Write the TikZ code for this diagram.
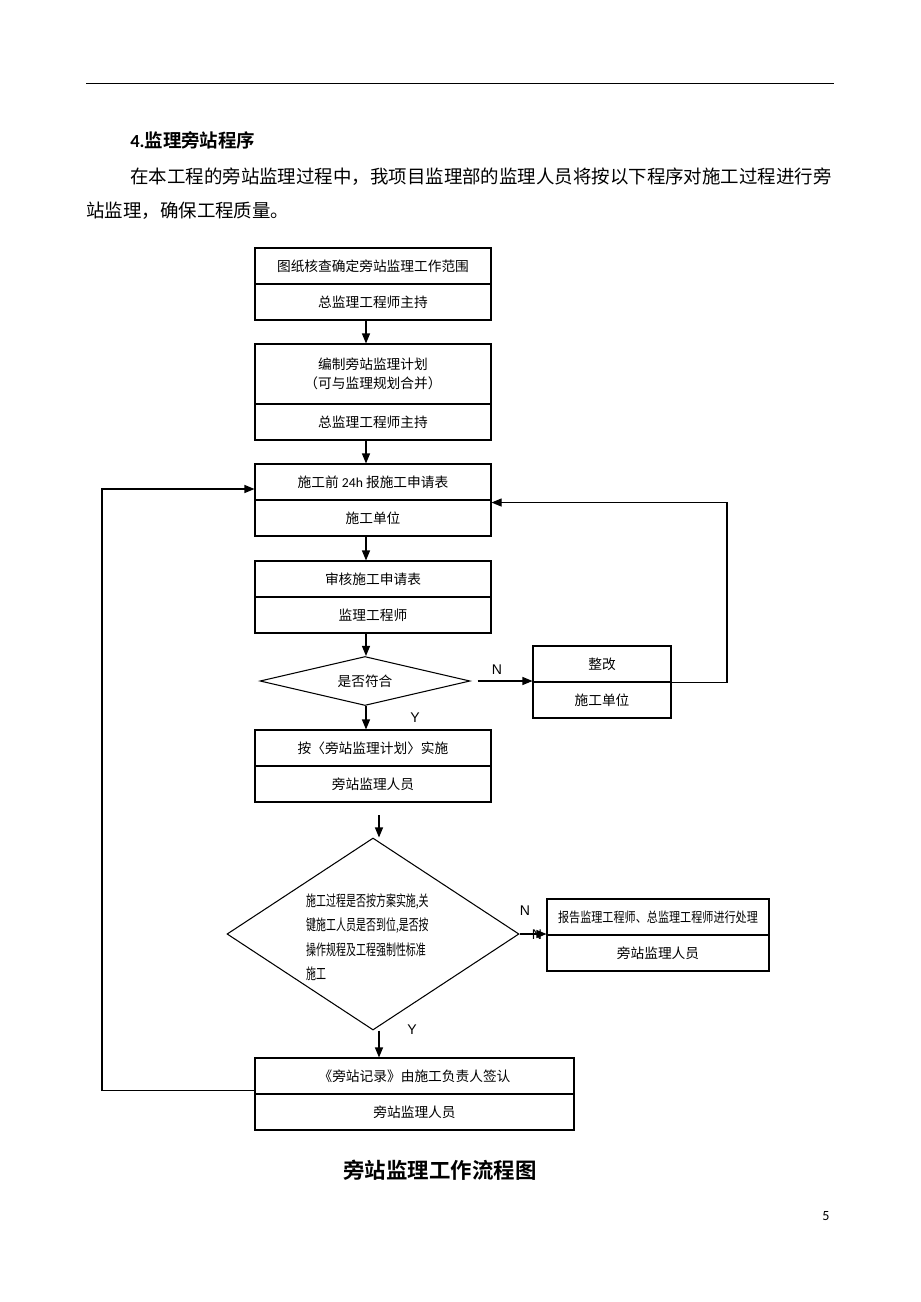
\documentclass[tikz,border=0pt]{standalone}
\usepackage{fontspec}
\setmainfont{Noto Sans CJK SC}[BoldFont={Noto Sans CJK SC Bold}]
\newfontfamily\lat{Carlito}
\newfontfamily\yn{Liberation Sans}
\usetikzlibrary{positioning,shapes.geometric,arrows.meta}

\begin{document}
\begin{tikzpicture}[x=0.2mm, y=-0.2mm,
    cell/.style={draw, line width=0.6pt, minimum height=7.2mm, inner sep=0pt, align=center, font=\fontsize{7.8}{11}\selectfont},
    main/.style={cell, minimum width=47.2mm},
    arr/.style={line width=0.6pt, -{Triangle[length=2mm,width=1.6mm]}},
    lbl/.style={font=\yn\fontsize{8}{9}\selectfont, inner sep=0pt},
    para/.style={anchor=west, inner sep=0pt, font=\fontsize{10.5}{12}\selectfont}]
    \useasboundingbox (0,0) rectangle (920,1302);
    \fill[white] (0,0) rectangle (920,1302);
    \draw[line width=0.5pt] (86,83) -- (834,83);
    \node[para, font=\bfseries\fontsize{10.5}{12}\selectfont] (head) at (130,140) {{\lat\bfseries 4.}监理旁站程序};
    \node[para] (par1) at (130,177) {在本工程的旁站监理过程中，我项目监理部的监理人员将按以下程序对施工过程进行旁};
    \node[para] (par2) at (86,211) {站监理，确保工程质量。};
    \node[main] (b1t) at (373,266) {图纸核查确定旁站监理工作范围};
    \node[main, below=-0.6pt of b1t] (b1b) {总监理工程师主持};
    \node[main, minimum height=12mm] (b2t) at (373,374) {编制旁站监理计划\\（可与监理规划合并）};
    \node[main, below=-0.6pt of b2t] (b2b) {总监理工程师主持};
    \node[main] (b3t) at (373,482) {施工前 {\lat 24h} 报施工申请表};
    \node[main, below=-0.6pt of b3t] (b3b) {施工单位};
    \node[main] (b4t) at (373,579) {审核施工申请表};
    \node[main, below=-0.6pt of b4t] (b4b) {监理工程师};
    \node[draw, diamond, line width=0.6pt, aspect=4.3, minimum width=42mm, minimum height=9.8mm, inner sep=0pt, font=\fontsize{7.8}{11}\selectfont] (d1) at (365,681) {是否符合};
    \node[cell, minimum width=27.6mm] (zt) at (602,664) {整改};
    \node[cell, minimum width=27.6mm, below=-0.6pt of zt] (zb) {施工单位};
    \node[main] (b5t) at (373,748) {按〈旁站监理计划〉实施};
    \node[main, below=-0.6pt of b5t] (b5b) {旁站监理人员};
    \node[draw, diamond, line width=0.6pt, aspect=1.52, minimum width=58.4mm, minimum height=38.4mm, inner sep=0pt] (d2) at (373,934) {};
    \node[anchor=west, align=left, inner sep=0pt, xscale=0.66, transform shape, font=\fontsize{8.6}{13.9}\selectfont] (d2txt) at (306,937) {施工过程是否按方案实施,关\\键施工人员是否到位,是否按\\操作规程及工程强制性标准\\施工};
    \node[cell, minimum width=44.4mm] (st) at (658,917) {\scalebox{0.81}[1]{报告监理工程师、总监理工程师进行处理}};
    \node[cell, minimum width=44.4mm, below=-0.6pt of st] (sb) {旁站监理人员};
    \node[cell, minimum width=63.8mm] (r1) at (414.5,1076) {《旁站记录》由施工负责人签认};
    \node[cell, minimum width=63.8mm, below=-0.6pt of r1] (r2) {旁站监理人员};
    \node[font=\bfseries\fontsize{12.2}{14}\selectfont] (title) at (440,1170) {旁站监理工作流程图};
    \node[font=\lat\fontsize{8}{9}\selectfont] (pg) at (826,1216) {5};
    \coordinate (ax) at (366,0);
    \coordinate (rp) at (727,0);
    \coordinate (lp) at (102,0);
    \coordinate (ay) at (379,0);
    \coordinate (gp) at (379,815);
    \draw[arr] (b1b.south -| ax) -- (b2t.north -| ax);
    \draw[arr] (b2b.south -| ax) -- (b3t.north -| ax);
    \draw[arr] (b3b.south -| ax) -- (b4t.north -| ax);
    \draw[arr] (b4b.south -| ax) -- (d1.north -| ax);
    \draw[arr] (d1.south -| ax) -- (b5t.north -| ax);
    \node[lbl] (y1) at (415,718) {Y};
    \draw[arr] ([xshift=1.4mm]d1.east) -- (d1.east -| zt.west);
    \node[lbl] (n1) at (497,670) {N};
    \draw[arr] (zt.south east) -- (zt.south east -| rp) -- ([yshift=-0.4mm]b3t.south east -| rp) -- ([yshift=-0.4mm]b3t.south east);
    \draw[arr] (gp) -- (gp |- d2.north);
    \node[lbl] (n2) at (525,911) {N};
    \node[lbl] (n3) at (537,935) {N};
    \draw[arr] (d2.east) -- (d2.east -| st.west);
    \draw[arr] (d2.south -| ay) -- (r1.north -| ay);
    \node[lbl] (y2) at (412,1030) {Y};
    \draw[arr] ([yshift=0.8mm]r1.south west) -- ([yshift=0.8mm]r1.south west -| lp) -- ([yshift=-1.4mm]b3t.west -| lp) -- ([yshift=-1.4mm]b3t.west);
\end{tikzpicture}
\end{document}
